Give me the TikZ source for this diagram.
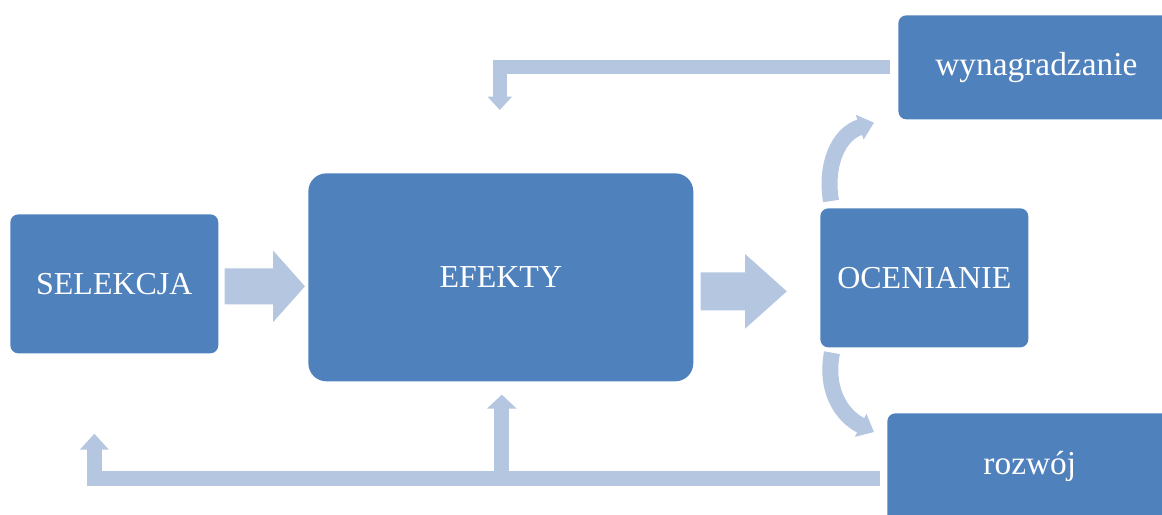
\documentclass[tikz,border=0pt]{standalone}
\usepackage{fontspec}
\setmainfont{Liberation Serif}
\usetikzlibrary{arrows.meta}
\definecolor{boxblue}{HTML}{4F81BD}
\definecolor{arrowblue}{HTML}{B4C6E0}
\tikzset{
  box/.style={fill=boxblue, draw=none, anchor=north west, inner sep=0pt,
    text=white, font=\fontsize{18.2}{21}\selectfont, rounded corners=0.16cm},
  lowbox/.style={box, font=\fontsize{19}{22}\selectfont},
  blockarrow/.style={draw=arrowblue, line width=#1, line cap=butt, line join=miter},
}
\begin{document}
\begin{tikzpicture}[x=0.02cm, y=-0.02cm]
\useasboundingbox (0,0) rectangle (1162,514);
% boxes
\node[box, minimum width=4.16cm, minimum height=2.78cm] (sel) at (10,214) {SELEKCJA};
\node[box, minimum width=7.7cm, minimum height=4.16cm, rounded corners=0.36cm] (eff) at (308,173) {EFEKTY};
\node[box, minimum width=4.16cm, minimum height=2.78cm] (oce) at (820,208) {OCENIANIE};
\node[lowbox, minimum width=5.52cm, minimum height=2.08cm] (wyn) at (898,15) {wynagradzanie};
\node[lowbox, minimum width=5.7cm, minimum height=2.2cm] (roz) at (887,413) {\raisebox{0.2cm}{rozwój}};
% forward block arrows
\coordinate (a1s) at ([shift={(6,2.5)}]sel.east);
\coordinate (a1e) at ([shift={(-3,9)}]eff.west);
\draw[blockarrow=0.72cm, -{Triangle[length=0.64cm, width=1.4cm]}, arrowblue] (a1s) -- (a1e);
\coordinate (a2s) at ([shift={(7,14)}]eff.east);
\coordinate (a2e) at ([shift={(-33,13.5)}]oce.west);
\draw[blockarrow=0.76cm, -{Triangle[length=0.84cm, width=1.44cm]}, arrowblue] (a2s) -- (a2e);
% top feedback
\coordinate (t1) at ([shift={(-8,-0.5)}]wyn.west);
\coordinate (t2) at ([shift={(-1,-63)}]eff.north);
\draw[blockarrow=0.27cm, -{Triangle[length=0.27cm, width=0.48cm]}, arrowblue] (t1) -| (t2);
% bottom feedback
\coordinate (b1) at ([shift={(-7,10.5)}]roz.west);
\coordinate (b2) at ([shift={(-20,80)}]sel.south);
\coordinate (b3) at ([shift={(1,13)}]eff.south);
\draw[blockarrow=0.3cm, -{Triangle[length=0.32cm, width=0.56cm]}, arrowblue] (b1) -| (b2);
\draw[blockarrow=0.3cm, -{Triangle[length=0.28cm, width=0.58cm]}, arrowblue] (b1 -| b3) -- (b3);
% curved arrows
\coordinate (c1s) at ([shift={(11,-7)}]oce.north west);
\coordinate (c1e) at ([shift={(-24,3)}]wyn.south west);
\draw[blockarrow=0.32cm, -{Triangle[length=0.3cm, width=0.5cm]}, arrowblue] (c1s) .. controls (825,165) and (838,134) .. (c1e);
\coordinate (c2s) at ([shift={(12,5)}]oce.south west);
\coordinate (c2e) at ([shift={(-13,19)}]roz.north west);
\draw[blockarrow=0.32cm, -{Triangle[length=0.3cm, width=0.5cm]}, arrowblue] (c2s) .. controls (825,388) and (840,415) .. (c2e);
\end{tikzpicture}
\end{document}
